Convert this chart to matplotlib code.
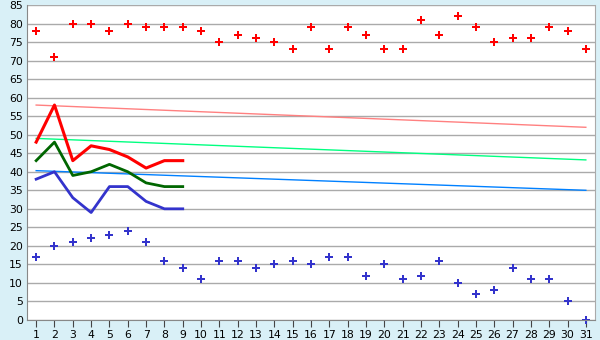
import numpy as np
import matplotlib
matplotlib.use("Agg")
import matplotlib.pyplot as plt

days = list(range(1, 32))
high_pts = [78, 71, 80, 80, 78, 80, 79, 79, 79, 78, 75, 77, 76, 75, 73, 79,
            73, 79, 77, 73, 73, 81, 77, 82, 79, 75, 76, 76, 79, 78, 73]
low_pts = [17, 20, 21, 22, 23, 24, 21, 16, 14, 11, 16, 16, 14, 15, 16, 15,
           17, 17, 12, 15, 11, 12, 16, 10, 7, 8, 14, 11, 11, 5, 0]

line_days = list(range(1, 10))
red_line = [48, 58, 43, 47, 46, 44, 41, 43, 43]
green_line = [43, 48, 39, 40, 42, 40, 37, 36, 36]
blue_line = [38, 40, 33, 29, 36, 36, 32, 30, 30]

trend_days = [1, 31]
pink_trend = [58, 52]
mint_trend = [49, 43.2]
sky_trend = [40.3, 35]

fig = plt.figure(figsize=(6, 3.4), dpi=100)
fig.patch.set_facecolor("#d9f0f7")
ax = fig.add_axes([27 / 600, 20 / 340, 568 / 600, 315 / 340])
ax.set_facecolor("white")

ax.set_xlim(0.5, 31.5)
ax.set_ylim(0, 85)
ax.set_yticks(range(0, 86, 5))
ax.set_xticks(days)
ax.yaxis.grid(True, color="#aaaaaa", linewidth=1)
ax.set_axisbelow(True)

for s in ax.spines.values():
    s.set_color("#aaaaaa")
ax.spines["top"].set_visible(False)
ax.spines["bottom"].set_color("#888888")
ax.spines["left"].set_color("#888888")

ax.tick_params(axis="x", direction="out", length=5, color="#444444",
               labelsize=7.8, pad=2)
ax.tick_params(axis="y", length=0, labelsize=7.8, pad=3)

ax.plot(trend_days, pink_trend, color="#ff8080", linewidth=1)
ax.plot(trend_days, mint_trend, color="#00ff80", linewidth=1)
ax.plot(trend_days, sky_trend, color="#0080ff", linewidth=1)

ax.plot(line_days, red_line, color="#ff0000", linewidth=2.2)
ax.plot(line_days, green_line, color="#006600", linewidth=2)
ax.plot(line_days, blue_line, color="#3333cc", linewidth=2)

ax.plot(days, high_pts, linestyle="none", marker="P", markersize=5.5,
        color="#ff0000", markeredgewidth=0)
ax.plot(days, low_pts, linestyle="none", marker="P", markersize=5.5,
        color="#3333cc", markeredgewidth=0, clip_on=False)

fig.savefig("out.png", dpi=100, facecolor=fig.get_facecolor())
